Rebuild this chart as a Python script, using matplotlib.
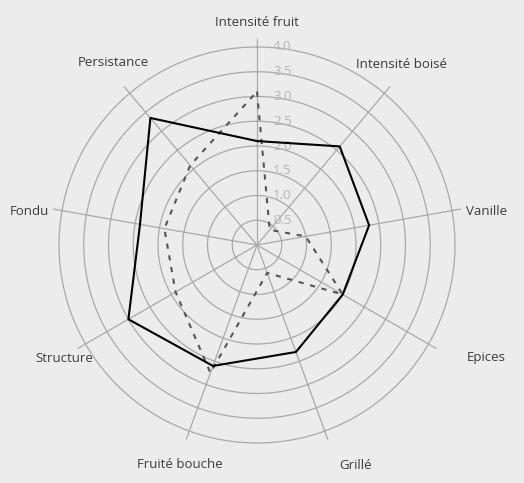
import numpy as np
import matplotlib.pyplot as plt
import matplotlib.transforms as mtransforms

# wine tasting profile: two samples scored 0-4 on nine descriptors
categories = ["Intensité fruit", "Intensité boisé", "Vanille", "Epices", "Grillé",
              "Fruité bouche", "Structure", "Fondu", "Persistance"]
solid_vals = [2.1, 2.6, 2.3, 2.0, 2.3, 2.6, 3.0, 2.4, 3.35]
dashed_vals = [3.1, 0.4, 1.0, 2.0, 0.6, 2.75, 1.9, 1.9, 2.1]
ring_levels = [0.5, 1.0, 1.5, 2.0, 2.5, 3.0, 3.5, 4.0]
ring_labels = ["0.5", "1.0", "1.5", "2.0", "2.5", "3.0", "3.5", "4.0"]

# radius used to place each category label (data units)
label_r = [4.5, 4.66, 4.69, 5.17, 4.87, 4.71, 4.52, 4.64, 4.68]
label_ang = [0.0, 38.7, 81.6, 116.2, 155.9, 199.4, 239.6, 278.5, 321.8]

bg = "#ececec"
grid_c = "#a9a9a9"
text_c = "#3c3c3c"
tick_c = "#b5b5b5"

plt.rcParams['font.family'] = ['Open Sans', 'DejaVu Sans']

W, H = 524, 483
fig = plt.figure(figsize=(W / 100, H / 100), dpi=100, facecolor=bg)
cx, cy, R = 257, 245, 198
ax = fig.add_axes([(cx - R) / W, (H - cy - R) / H, 2 * R / W, 2 * R / H],
                  projection='polar')
ax.set_facecolor(bg)
ax.set_theta_zero_location('N')
ax.set_theta_direction(-1)
ax.set_ylim(0, 4.0)
ax.grid(False)
ax.spines['polar'].set_visible(False)
ax.set_xticks([])
ax.set_yticks([])
ax.patch.set_alpha(0)

n = len(categories)
angles = np.arange(n) * 2 * np.pi / n

# rings
tt = np.linspace(0, 2 * np.pi, 400)
for lv in ring_levels:
    ax.plot(tt, np.full_like(tt, lv), color=grid_c, lw=0.9, zorder=1, clip_on=False)

# spokes
for a in angles:
    ax.plot([a, a], [0, 4.17], color=grid_c, lw=0.9, zorder=1, clip_on=False)

# ring value labels along the top spoke
off = mtransforms.offset_copy(ax.transData, fig=fig, x=16, y=0, units='dots')
for lv, lab in zip(ring_levels, ring_labels):
    ax.text(0, lv, lab, transform=off, ha='left', va='center',
            color=tick_c, fontsize=9.5, zorder=2)

# series
ang_c = np.append(angles, angles[0])
ax.plot(ang_c, np.append(dashed_vals, dashed_vals[0]), color="#555555", lw=1.5,
        linestyle=(0, (2.5, 3.2)), zorder=3, clip_on=False)
ax.plot(ang_c, np.append(solid_vals, solid_vals[0]), color="black", lw=1.5,
        zorder=4, clip_on=False)

# category labels
for cat, r, a in zip(categories, label_r, label_ang):
    ax.text(np.deg2rad(a), r, cat, ha='center', va='center', color=text_c,
            fontsize=9.5, clip_on=False)

fig.savefig("out.png", dpi=100, facecolor=bg)
